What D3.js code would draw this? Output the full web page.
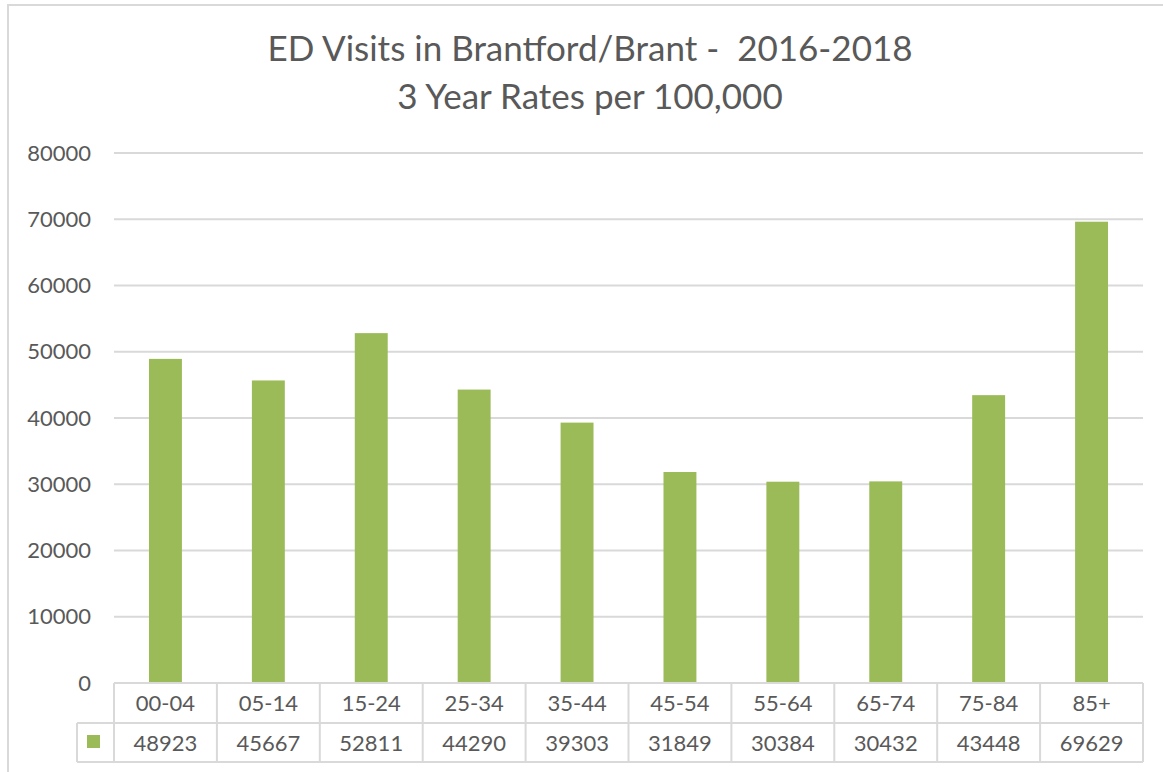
<!DOCTYPE html>
<html>
<head>
<meta charset="utf-8">
<script src="https://cdn.jsdelivr.net/npm/d3@7"></script>
<style>
  body { margin: 0; background: #fff; }
  text { font-family: Lato, "Open Sans", sans-serif; fill: #595959; }
</style>
</head>
<body>
<div id="chart"></div>
<script>
// data
var ageGroups = ["00-04", "05-14", "15-24", "25-34", "35-44", "45-54", "55-64", "65-74", "75-84", "85+"];
var rates = [48923, 45667, 52811, 44290, 39303, 31849, 30384, 30432, 43448, 69629];
var yTicks = [0, 10000, 20000, 30000, 40000, 50000, 60000, 70000, 80000];
var titleLines = ["ED Visits in Brantford/Brant -  2016-2018", "3 Year Rates per 100,000"];

var width = 1163, height = 772;
var plot = { left: 114, right: 1143, top: 153, bottom: 683 };
var rowH = 40;
var grey = "#d9d9d9", green = "#9bbb59";

var svg = d3.select("#chart").append("svg")
  .attr("width", width)
  .attr("height", height);

// chart area border (only left/top visible in the crop)
svg.append("rect")
  .attr("x", 8).attr("y", 5)
  .attr("width", 1170).attr("height", 800)
  .attr("fill", "none")
  .attr("stroke", grey)
  .attr("stroke-width", 2);

var x = d3.scaleBand()
  .domain(ageGroups)
  .range([plot.left, plot.right])
  .paddingInner(0.68)
  .paddingOuter(0.34);

var xCol = d3.scaleBand()
  .domain(ageGroups)
  .range([plot.left, plot.right]);

var y = d3.scaleLinear()
  .domain([0, 80000])
  .range([plot.bottom, plot.top]);

// title
svg.append("g").selectAll("text")
  .data(titleLines)
  .enter().append("text")
  .attr("x", 590)
  .attr("y", (d, i) => 61 + i * 48)
  .attr("text-anchor", "middle")
  .style("font-size", "35px")
  .style("white-space", "pre")
  .text(d => d);

// gridlines
svg.append("g").selectAll("line")
  .data(yTicks.filter(d => d > 0))
  .enter().append("line")
  .attr("x1", plot.left).attr("x2", plot.right)
  .attr("y1", d => y(d)).attr("y2", d => y(d))
  .attr("stroke", grey)
  .attr("stroke-width", 2);

// y axis labels
var yAxis = d3.axisLeft(y)
  .tickValues(yTicks)
  .tickSize(0)
  .tickPadding(0)
  .tickFormat(d3.format("d"));

var yg = svg.append("g")
  .attr("transform", "translate(91,0)")
  .call(yAxis);
yg.select(".domain").remove();
yg.selectAll("text")
  .style("font-size", "22px")
  .attr("fill", "#595959");

// bars
svg.append("g").selectAll("rect")
  .data(rates)
  .enter().append("rect")
  .attr("x", (d, i) => x(ageGroups[i]))
  .attr("y", d => y(d))
  .attr("width", x.bandwidth())
  .attr("height", d => y(0) - y(d))
  .attr("fill", green);

// data table
var table = svg.append("g");
var keyLeft = 77;
var rowTop = plot.bottom, rowMid = plot.bottom + rowH, rowBot = plot.bottom + 2 * rowH - 1;

table.append("line")
  .attr("x1", plot.left).attr("x2", plot.right)
  .attr("y1", rowTop).attr("y2", rowTop);
table.append("line")
  .attr("x1", keyLeft).attr("x2", plot.right)
  .attr("y1", rowMid).attr("y2", rowMid);
table.append("line")
  .attr("x1", keyLeft).attr("x2", plot.right)
  .attr("y1", rowBot).attr("y2", rowBot);
table.append("line")
  .attr("x1", keyLeft).attr("x2", keyLeft)
  .attr("y1", rowMid).attr("y2", rowBot);
table.selectAll(".vline")
  .data(ageGroups)
  .enter().append("line")
  .attr("class", "vline")
  .attr("x1", d => xCol(d)).attr("x2", d => xCol(d))
  .attr("y1", rowTop).attr("y2", rowBot);
table.append("line")
  .attr("x1", plot.right).attr("x2", plot.right)
  .attr("y1", rowTop).attr("y2", rowBot);
table.selectAll("line")
  .attr("stroke", grey)
  .attr("stroke-width", 2);

table.selectAll(".cat")
  .data(ageGroups)
  .enter().append("text")
  .attr("class", "cat")
  .attr("x", d => xCol(d) + xCol.bandwidth() / 2)
  .attr("y", rowTop + rowH / 2 + 8)
  .attr("text-anchor", "middle")
  .style("font-size", "22px")
  .text(d => d);

table.selectAll(".val")
  .data(rates)
  .enter().append("text")
  .attr("class", "val")
  .attr("x", (d, i) => xCol(ageGroups[i]) + xCol.bandwidth() / 2)
  .attr("y", rowMid + rowH / 2 + 8)
  .attr("text-anchor", "middle")
  .style("font-size", "22px")
  .text(d => d);

// legend key
table.append("rect")
  .attr("x", 87).attr("y", 735)
  .attr("width", 13).attr("height", 13)
  .attr("fill", green);
</script>
</body>
</html>
